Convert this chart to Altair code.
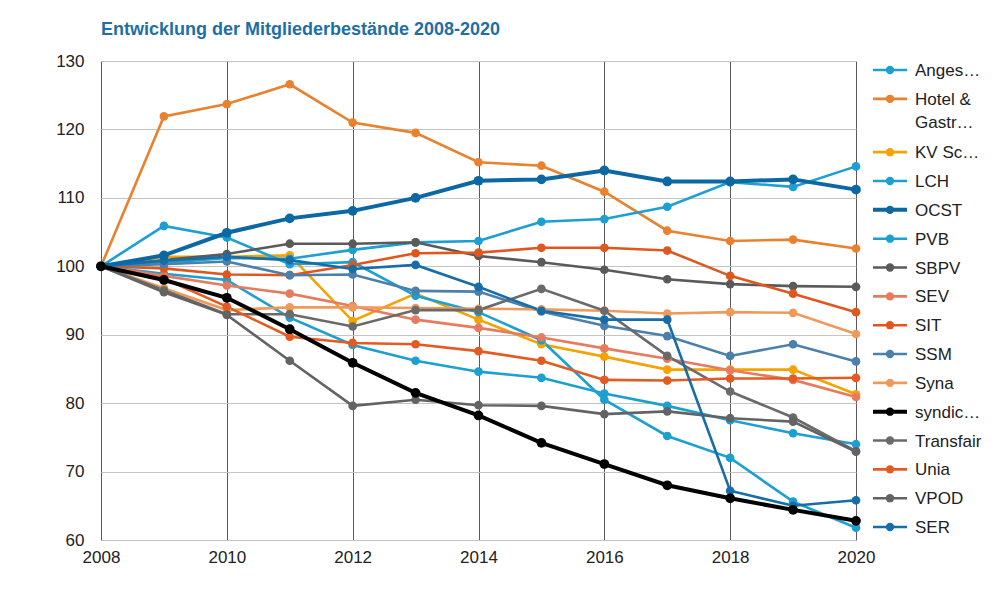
import altair as alt
import pandas as pd

years = list(range(2008, 2021))

series_names = [
    "Angestellte Schweiz", "Hotel & Gastro Union", "KV Schweiz", "LCH", "OCST",
    "PVB", "SBPV", "SEV", "SIT", "SSM", "Syna", "syndicom", "Transfair",
    "Unia", "VPOD", "SER",
]
legend_labels = [
    "Anges…", "Hotel &\nGastr…", "KV Sc…", "LCH", "OCST", "PVB", "SBPV", "SEV",
    "SIT", "SSM", "Syna", "syndic…", "Transfair", "Unia", "VPOD", "SER",
]
colors = [
    "#1c9fd1", "#e8822e", "#f5a300", "#1c9fd1", "#0b68a2", "#1c9fd1", "#5a5a5a",
    "#e77b5e", "#e0561f", "#4a80ab", "#ef9a5a", "#000000", "#6a6a6a",
    "#e35b22", "#636363", "#176da7",
]

anges = [100, 98.9, 98.0, 92.5, 88.5, 86.2, 84.6, 83.7, 81.4, 79.6, 77.5, 75.6, 74.0]
hotel = [100, 121.9, 123.7, 126.6, 121.0, 119.5, 115.2, 114.7, 110.9, 105.2, 103.7, 103.9, 102.6]
kv = [100, 101.4, 101.4, 101.6, 92.0, 96.0, 92.2, 88.6, 86.8, 84.9, 84.9, 84.9, 81.3]
lch = [100, 100.5, 101.2, 101.1, 102.4, 103.5, 103.7, 106.5, 106.9, 108.7, 112.3, 111.6, 114.6]
ocst = [100, 101.6, 104.9, 107.0, 108.1, 110.0, 112.5, 112.7, 114.0, 112.4, 112.4, 112.7, 111.2]
pvb = [100, 105.9, 104.2, 100.3, 100.6, 95.7, 93.3, 89.2, 80.5, 75.2, 72.0, 65.6, 61.8]
sbpv = [100, 100.9, 101.8, 103.3, 103.3, 103.5, 101.5, 100.6, 99.5, 98.1, 97.4, 97.1, 97.0]
sev = [100, 98.6, 97.2, 96.0, 94.2, 92.2, 91.0, 89.6, 88.0, 86.5, 84.8, 83.4, 80.9]
sit = [100, 99.7, 98.8, 98.7, 100.2, 101.9, 102.0, 102.7, 102.7, 102.3, 98.6, 96.0, 93.3]
ssm = [100, 100.3, 100.7, 98.7, 98.8, 96.4, 96.3, 93.4, 91.3, 89.8, 86.9, 88.6, 86.1]
syna = [100, 96.8, 93.6, 94.0, 94.0, 93.9, 93.8, 93.7, 93.5, 93.1, 93.3, 93.2, 90.1]
syndicom = [100, 98.0, 95.4, 90.8, 85.9, 81.5, 78.2, 74.2, 71.1, 68.0, 66.1, 64.4, 62.8]
transfair = [100, 96.5, 93.0, 93.0, 91.2, 93.6, 93.6, 96.7, 93.5, 86.9, 81.7, 77.9, 73.0]
unia = [100, 98.2, 94.1, 89.7, 88.8, 88.6, 87.6, 86.2, 83.4, 83.3, 83.6, 83.6, 83.7]
vpod = [100, 96.2, 92.9, 86.2, 79.6, 80.5, 79.7, 79.6, 78.4, 78.8, 77.8, 77.3, 72.9]
ser = [100, 100.8, 101.4, 100.9, 99.6, 100.2, 97.0, 93.5, 92.2, 92.2, 67.2, 65.0, 65.8]

all_values = [anges, hotel, kv, lch, ocst, pvb, sbpv, sev, sit, ssm, syna,
              syndicom, transfair, unia, vpod, ser]

x_ticks = [2008, 2010, 2012, 2014, 2016, 2018, 2020]
y_ticks = [60, 70, 80, 90, 100, 110, 120, 130]

thick = ["OCST", "syndicom"]

rows = []
for name, vals in zip(series_names, all_values):
    for yr, v in zip(years, vals):
        rows.append({"series": name, "year": yr, "value": v})
df = pd.DataFrame(rows)

leg_rows = []
for i, (name, lab) in enumerate(zip(series_names, legend_labels)):
    leg_rows.append({"series": name, "label": lab, "slot": i + (0.85 if i >= 2 else 0)})
legend_df = pd.DataFrame(leg_rows)

W, H = 755, 479
FONT = "Liberation Sans"

color = alt.Color("series:N", scale=alt.Scale(domain=series_names, range=colors), legend=None)

x = alt.X(
    "year:Q",
    scale=alt.Scale(domain=[2008, 2020], nice=False, zero=False),
    axis=alt.Axis(values=x_ticks, format="d", title=None, grid=True,
                  gridColor="#5a5a5a", gridWidth=1, domain=False, ticks=False,
                  tickSize=0, labelPadding=9, labelFontSize=17, labelFont=FONT,
                  labelColor="#222222", labelFlush=False, labelOverlap=False),
)
y = alt.Y(
    "value:Q",
    scale=alt.Scale(domain=[60, 130], nice=False, zero=False),
    axis=alt.Axis(values=y_ticks, title=None, grid=True, gridColor="#c4c4c4",
                  gridWidth=1, domain=False, ticks=False, tickSize=0,
                  labelPadding=17, labelFontSize=17, labelFont=FONT,
                  labelColor="#222222", labelFlush=False),
)

base = alt.Chart(df).encode(x=x, y=y, color=color)
is_thick = alt.FieldOneOfPredicate(field="series", oneOf=thick)

thin_lines = base.transform_filter(~is_thick).mark_line(strokeWidth=2.6)
thin_pts = base.transform_filter(~is_thick).mark_point(filled=True, size=75, opacity=1)
thick_lines = base.transform_filter(is_thick).mark_line(strokeWidth=4)
thick_pts = base.transform_filter(is_thick).mark_point(filled=True, size=95, opacity=1)

main = alt.layer(thin_lines, thin_pts, thick_lines, thick_pts)

ly = alt.Y("slot:Q", scale=alt.Scale(domain=[-0.312, 16.30], reverse=True, nice=False, zero=False), axis=None)
leg_base = alt.Chart(legend_df).encode(y=ly, color=color)
leg_rule = leg_base.mark_rule().encode(
    x=alt.value(W + 17), x2=alt.value(W + 51),
    strokeWidth=alt.condition(is_thick, alt.value(4), alt.value(2.6)),
)
leg_pt = leg_base.mark_point(filled=True, size=70, opacity=1).encode(x=alt.value(W + 34))
leg_txt = alt.Chart(legend_df).mark_text(
    align="left", baseline="alphabetic", dy=6, fontSize=17, font=FONT,
    lineBreak="\n", lineHeight=23, color="#222222",
).encode(x=alt.value(W + 59), y=ly, text="label:N")

legend = alt.layer(leg_rule, leg_pt, leg_txt)

chart = alt.layer(main, legend).resolve_scale(y="independent").properties(
    width=W, height=H,
    padding={"left": 47, "top": 13, "right": 5, "bottom": 5},
    title=alt.TitleParams(
        "Entwicklung der Mitgliederbestände 2008-2020", anchor="start",
        frame="group", fontSize=18, fontWeight="bold", color="#1d6fa5",
        font=FONT, offset=-1, baseline="alphabetic",
    ),
).configure_view(stroke=None).configure(background="white")

chart.save("out.html", embed_options={"renderer": "svg", "actions": False})
